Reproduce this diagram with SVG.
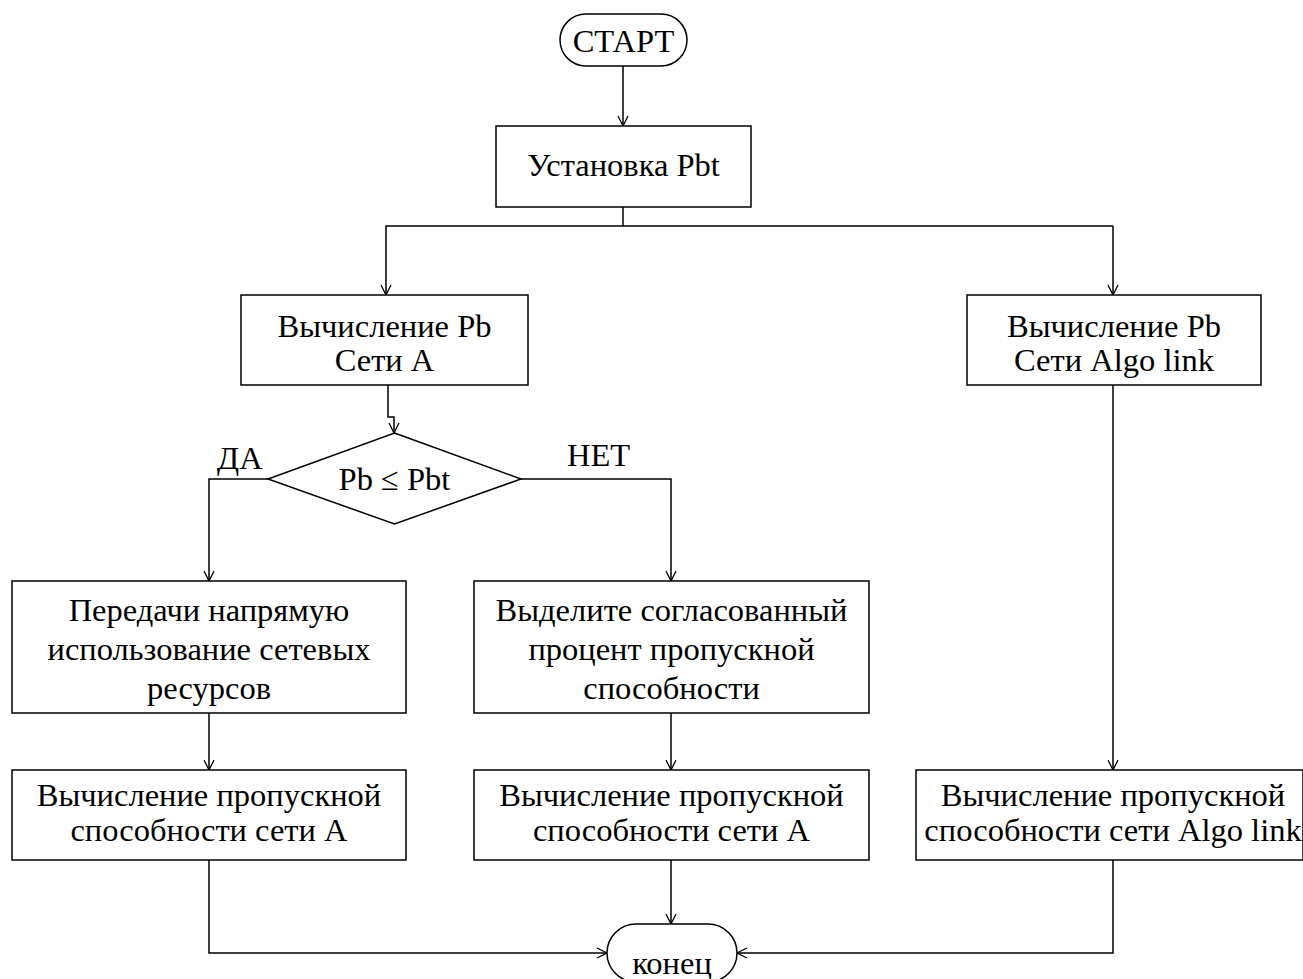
<svg xmlns="http://www.w3.org/2000/svg" width="1303" height="979" viewBox="0 0 1303 979">
<defs>
<marker id="arr" viewBox="0 0 12 12" refX="11" refY="6" markerWidth="12" markerHeight="12" markerUnits="userSpaceOnUse" orient="auto">
<polyline points="1,1 11,6 1,11" fill="none" stroke="#000" stroke-width="1.3"/>
</marker>
<style>
.s{fill:#fff;stroke:#000;stroke-width:1.5}
.c{fill:none;stroke:#000;stroke-width:1.5;marker-end:url(#arr)}
.l{fill:none;stroke:#000;stroke-width:1.5}
.t{font-family:"Liberation Serif","Times New Roman",serif;font-size:32.5px;fill:#000;text-anchor:middle}
.lab{text-anchor:start}
</style>
</defs>
<rect width="1303" height="979" fill="#fff"/>
<g id="connectors">
<path class="c" d="M623,66 V126"/>
<path class="l" d="M623,207 V226"/>
<path class="c" d="M1113,226 H386 V295"/>
<path class="c" d="M1113,226 V295"/>
<path class="c" d="M388,385 V417 H394 V433"/>
<path class="c" d="M268,479 H209 V581"/>
<path class="c" d="M521,479 H671 V581"/>
<path class="c" d="M209,713 V770"/>
<path class="c" d="M671,713 V770"/>
<path class="c" d="M1113,385 V770"/>
<path class="c" d="M209,860 V953 H607"/>
<path class="c" d="M671,860 V924"/>
<path class="c" d="M1113,860 V953 H737"/>
</g>
<g id="start">
<rect class="s" x="560" y="14" width="127" height="52" rx="26"/>
<text class="t" x="623.5" y="52">СТАРТ</text>
</g>
<g id="setPbt">
<rect class="s" x="496" y="126" width="255" height="81"/>
<text class="t" x="623.5" y="176">Установка Pbt</text>
</g>
<g id="calcA">
<rect class="s" x="241" y="295" width="287" height="90"/>
<text class="t" x="384.5" y="337">Вычисление Pb</text>
<text class="t" x="384.5" y="371">Сети А</text>
</g>
<g id="calcAlgo">
<rect class="s" x="967" y="295" width="294" height="90"/>
<text class="t" x="1114" y="337">Вычисление Pb</text>
<text class="t" x="1114" y="371">Сети Algo link</text>
</g>
<g id="decision">
<polygon class="s" points="394.5,433 521,479 394.5,524 268,479"/>
<text class="t" x="394.5" y="490">Pb ≤ Pbt</text>
</g>
<g id="labels">
<text class="t lab" x="217" y="469">ДА</text>
<text class="t lab" x="567" y="466">НЕТ</text>
</g>
<g id="direct">
<rect class="s" x="12" y="581" width="394" height="132"/>
<text class="t" x="209" y="621">Передачи напрямую</text>
<text class="t" x="209" y="660">использование сетевых</text>
<text class="t" x="209" y="699">ресурсов</text>
</g>
<g id="allocate">
<rect class="s" x="474" y="581" width="395" height="132"/>
<text class="t" x="671.5" y="621">Выделите согласованный</text>
<text class="t" x="671.5" y="660">процент пропускной</text>
<text class="t" x="671.5" y="699">способности</text>
</g>
<g id="bwA1">
<rect class="s" x="12" y="770" width="394" height="90"/>
<text class="t" x="209" y="806">Вычисление пропускной</text>
<text class="t" x="209" y="841">способности сети А</text>
</g>
<g id="bwA2">
<rect class="s" x="474" y="770" width="395" height="90"/>
<text class="t" x="671.5" y="806">Вычисление пропускной</text>
<text class="t" x="671.5" y="841">способности сети А</text>
</g>
<g id="bwAlgo">
<rect class="s" x="916" y="770" width="387" height="90"/>
<text class="t" x="1113" y="806">Вычисление пропускной</text>
<text class="t" x="1113" y="841">способности сети Algo link</text>
</g>
<g id="end">
<rect class="s" x="607" y="924" width="130" height="58" rx="29"/>
<text class="t" x="672" y="974">конец</text>
</g>
</svg>
